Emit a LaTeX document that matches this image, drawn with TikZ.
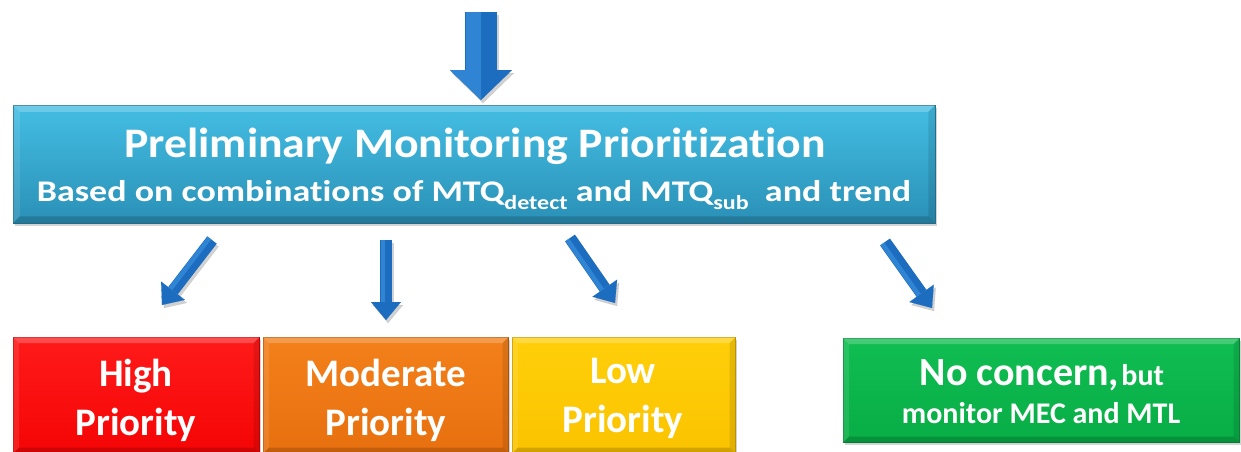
\documentclass[tikz,border=0pt]{standalone}
\usepackage{fontspec}
\setmainfont{Carlito}[Ligatures={NoCommon}]
\newfontfamily\titlefont[FakeStretch=1.09,Ligatures={NoCommon}]{Carlito}
\newfontfamily\subfont[FakeStretch=1.2,Ligatures={NoCommon}]{Carlito}
\usetikzlibrary{arrows.meta,shadows,calc}
\definecolor{mainA}{HTML}{44BEE4}
\definecolor{mainB}{HTML}{2A90B6}
\definecolor{redA}{HTML}{FF1A1A}
\definecolor{redB}{HTML}{F50505}
\definecolor{orA}{HTML}{F3801A}
\definecolor{orB}{HTML}{E8700F}
\definecolor{yeA}{HTML}{FFCF0A}
\definecolor{yeB}{HTML}{FBC300}
\definecolor{grA}{HTML}{10BE52}
\definecolor{grB}{HTML}{08AD46}
\definecolor{arrowblue}{HTML}{1C6CC0}
\definecolor{arrowlight}{HTML}{2F84D4}
\tikzset{
  boxstyle/.style={rectangle, inner sep=0pt,
    drop shadow={shadow xshift=2pt, shadow yshift=-3pt, opacity=0.35}},
  boxtext/.style={text=white, inner sep=0pt, anchor=base},
  blockarrow/.style={line width=#1, arrowblue, line cap=butt},
  arrowshadow/.style={line width=#1, black, opacity=0.18, line cap=butt},
  arrowshine/.style={line width=#1, arrowlight, line cap=butt},
}
\newcommand\bevelbox[2]{%
  \fill[white,opacity=0.22] (#1.north west) -- (#1.north east) -- ($(#1.north east)+(-#2,#2)$) -- ($(#1.north west)+(#2,#2)$) -- cycle;
  \fill[white,opacity=0.10] (#1.north west) -- ($(#1.north west)+(#2,#2)$) -- ($(#1.south west)+(#2,-#2)$) -- (#1.south west) -- cycle;
  \fill[black,opacity=0.10] (#1.north east) -- ($(#1.north east)+(-#2,#2)$) -- ($(#1.south east)+(-#2,-#2)$) -- (#1.south east) -- cycle;
  \fill[black,opacity=0.16] (#1.south west) -- (#1.south east) -- ($(#1.south east)+(-#2,-#2)$) -- ($(#1.south west)+(#2,-#2)$) -- cycle;
}
\begin{document}
\begin{tikzpicture}[x=1pt,y=-1pt]
\useasboundingbox (0,0) rectangle (1241,452);

% main box
\node[boxstyle, top color=mainA, bottom color=mainB, draw=mainB!80!black, line width=0.5pt,
  minimum width=922pt, minimum height=118pt] (main) at (474,164) {};
\bevelbox{main}{7}
\node[boxtext, font=\titlefont\bfseries\fontsize{42}{46}\selectfont] (t1) at (475,157) {Preliminary Monitoring Prioritization};
\node[boxtext, font=\subfont\bfseries\fontsize{30}{34}\selectfont] (t2) at (474,201)
  {Based on combinations of MTQ\raisebox{-0.28em}{\fontsize{20}{20}\selectfont detect} and MTQ\raisebox{-0.28em}{\fontsize{20}{20}\selectfont sub}\ \ and trend};

% bottom boxes
\node[boxstyle, top color=redA, bottom color=redB, draw=redB!80!black, line width=0.5pt,
  minimum width=246pt, minimum height=116pt, anchor=north west] (high) at (13,337) {};
\bevelbox{high}{6}
\node[boxtext, font=\bfseries\fontsize{39}{44}\selectfont] (high1) at (136,386) {High};
\node[boxtext, font=\bfseries\fontsize{39}{44}\selectfont] (high2) at (136,435) {Priority};

\node[boxstyle, top color=orA, bottom color=orB, draw=orB!80!black, line width=0.5pt,
  minimum width=245pt, minimum height=116pt, anchor=north west] (mod) at (263,337) {};
\bevelbox{mod}{6}
\node[boxtext, font=\bfseries\fontsize{39}{44}\selectfont] (mod1) at (386,386) {Moderate};
\node[boxtext, font=\bfseries\fontsize{39}{44}\selectfont] (mod2) at (386,435) {Priority};

\node[boxstyle, top color=yeA, bottom color=yeB, draw=yeB!80!black, line width=0.5pt,
  minimum width=223pt, minimum height=116pt, anchor=north west] (low) at (512,337) {};
\bevelbox{low}{6}
\node[boxtext, font=\bfseries\fontsize{39}{44}\selectfont] (low1) at (623,383) {Low};
\node[boxtext, font=\bfseries\fontsize{39}{44}\selectfont] (low2) at (623,432) {Priority};

\node[boxstyle, top color=grA, bottom color=grB, draw=grB!80!black, line width=0.5pt,
  minimum width=396pt, minimum height=104pt, anchor=north west] (none) at (843,338) {};
\bevelbox{none}{6}
\node[boxtext, font=\bfseries] (none1) at (1042,385)
  {{\fontsize{40}{44}\selectfont No concern,} {\fontsize{30}{34}\selectfont but}};
\node[boxtext, font=\bfseries\fontsize{30}{34}\selectfont] (none2) at (1041,423) {monitor MEC and MTL};

% arrows
\coordinate (a0s) at (481,12);  \coordinate (a0e) at (481,100);
\coordinate (a1s) at (212,240); \coordinate (a1e) at (162,305);
\coordinate (a2s) at (386,240); \coordinate (a2e) at (386,320);
\coordinate (a3s) at (570,238); \coordinate (a3e) at (615,303);
\coordinate (a4s) at (885,242); \coordinate (a4e) at (932,308);

\begin{scope}[transform canvas={xshift=2pt,yshift=-3pt}]
\draw[arrowshadow=32pt, -{Triangle[width=62pt,length=30pt,line width=0.1pt]}] (a0s) -- (a0e);
\foreach \a in {1,2,3,4}
  \draw[arrowshadow=12pt, -{Triangle[width=30pt,length=18pt,line width=0.1pt]}] (a\a s) -- (a\a e);
\end{scope}
\draw[blockarrow=32pt, -{Triangle[width=62pt,length=30pt,line width=0.1pt]}] (a0s) -- (a0e);
\draw[arrowshine=15pt, shorten >=30pt] ($(a0s)+(-8,0)$) -- ($(a0e)+(-8,0)$);
\fill[arrowlight] ($(a0e)+(-31,-30)$) -- (a0e) -- ($(a0e)+(0,-30)$) -- cycle;
\foreach \a in {1,2,3,4}{
  \draw[blockarrow=12pt, -{Triangle[width=30pt,length=18pt,line width=0.1pt]}] (a\a s) -- (a\a e);
  \draw[arrowshine=4.5pt, shorten >=18pt] ($(a\a s)!3.2pt!-90:(a\a e)$) -- ($(a\a e)!3.2pt!90:(a\a s)$);
}
\end{tikzpicture}
\end{document}
